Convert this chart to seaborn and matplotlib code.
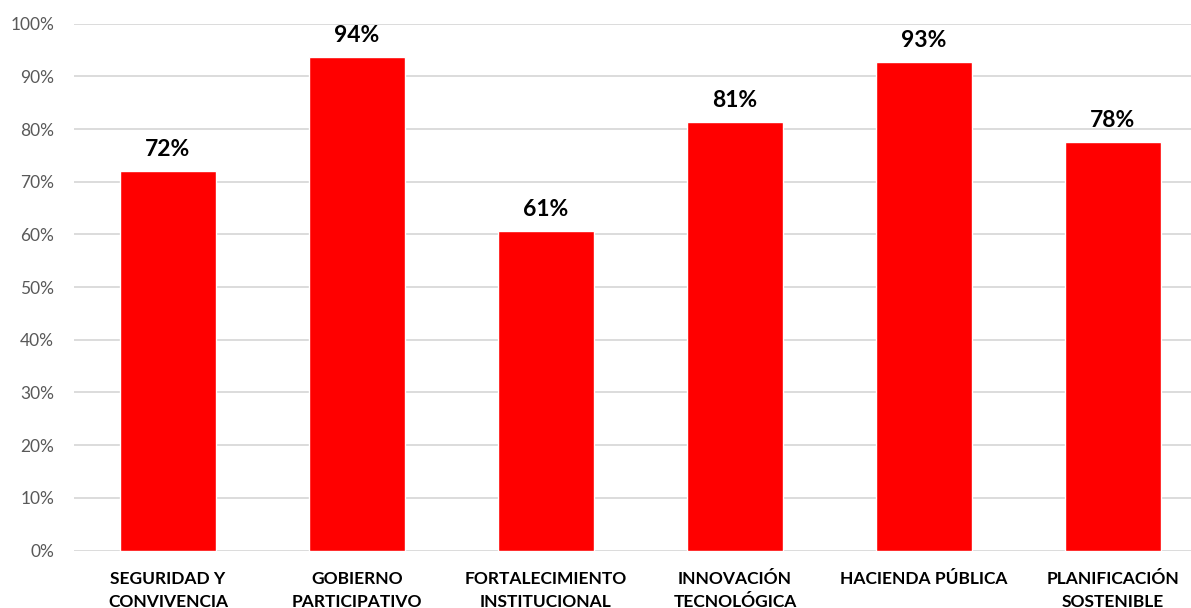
import matplotlib
matplotlib.use("Agg")
import matplotlib.pyplot as plt
import seaborn as sns
import pandas as pd
from matplotlib.ticker import PercentFormatter

categories = ["SEGURIDAD Y\nCONVIVENCIA", "GOBIERNO\nPARTICIPATIVO", "FORTALECIMIENTO\nINSTITUCIONAL",
              "INNOVACIÓN\nTECNOLÓGICA", "HACIENDA PÚBLICA", "PLANIFICACIÓN\nSOSTENIBLE"]
values = [0.720, 0.937, 0.6065, 0.8134, 0.928, 0.776]
labels = ["72%", "94%", "61%", "81%", "93%", "78%"]

sns.set_theme(style="white")
plt.rcParams['font.family'] = ['Lato', 'DejaVu Sans']

df = pd.DataFrame({"cat": categories, "val": values})

fig = plt.figure(figsize=(11.91, 6.08), dpi=100)
ax = fig.add_axes([73.5/1191, (608-550.5)/608, 1134/1191, (550.5-23.7)/608])
sns.barplot(data=df, x="cat", y="val", color="#FF0000", saturation=1, width=0.51, ax=ax, zorder=3)

ax.set_ylim(0, 1)
ax.set_xlim(-0.5, 5.5)
ax.set_yticks([i/10 for i in range(11)])
ax.yaxis.set_major_formatter(PercentFormatter(1.0, decimals=0))
ax.grid(axis="y", color="#d9d9d9", linewidth=1.3, zorder=0)
ax.set_axisbelow(True)
for s in ax.spines.values():
    s.set_visible(False)
ax.set_xlabel("")
ax.set_ylabel("")
ax.tick_params(axis="y", length=0, labelsize=12.5, labelcolor="#595959", pad=14)
ax.tick_params(axis="x", length=0, labelsize=12.5, pad=15)
for t in ax.get_xticklabels():
    t.set_fontweight("bold")
    t.set_color("black")
    t.set_linespacing(1.55)

ax.bar_label(ax.containers[0], labels=labels, padding=8, fontsize=16.5, fontweight="bold", color="black")

fig.savefig("out.png", dpi=100)
